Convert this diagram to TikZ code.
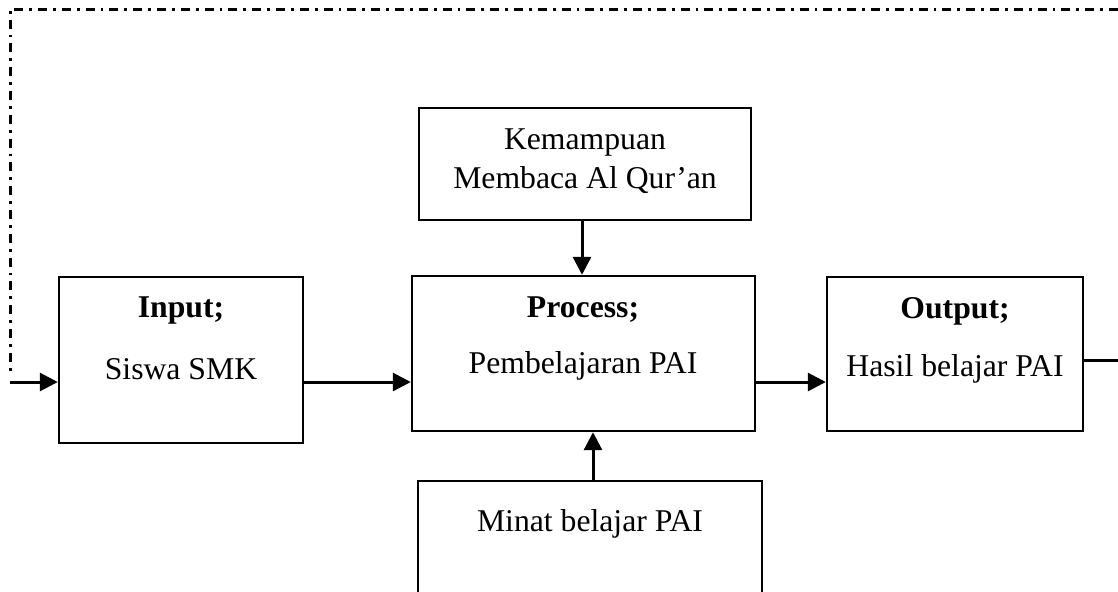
\documentclass[tikz,border=0pt]{standalone}
\usepackage{fontspec}
\setmainfont{Liberation Serif}
\usetikzlibrary{arrows.meta}
\begin{document}
\begin{tikzpicture}[x=0.5pt,y=-0.5pt,
  box/.style={draw,line width=1.2pt,inner sep=0pt,minimum width=#1},
  txt/.style={font=\fontsize{15.85}{19.5}\selectfont,inner sep=0pt,align=center},
  arr/.style={line width=1.5pt,-{Triangle[length=9pt,width=9pt]}},
  conn/.style={line width=1.5pt},
  dashdot/.style={line width=1.5pt,dash pattern=on 4.5pt off 3pt on 1.4pt off 3pt}]
\useasboundingbox (0,0) rectangle (1118,591);
\clip (0,0) rectangle (1118,591);
% boxes
\node[box=122pt,minimum height=83pt] (input) at (181,360) {};
\node[box=171.5pt,minimum height=77.5pt] (process) at (583.5,353.5) {};
\node[box=166pt,minimum height=56pt] (kem) at (585,164) {};
\node[box=128pt,minimum height=77pt] (output) at (955,354) {};
\node[box=172pt,minimum height=79.5pt] (minat) at (590,560.5) {};
% texts
\node[txt,font=\fontsize{15.85}{19.5}\selectfont\bfseries] (tin) at (181,310) {Input;};
\node[txt] (tsiswa) at (181,369) {Siswa SMK};
\node[txt,font=\fontsize{15.85}{19.5}\selectfont\bfseries] (tpro) at (583,310) {Process;};
\node[txt] (tpemb) at (583,366) {Pembelajaran PAI};
\node[txt] (tkem) at (585,161) {Kemampuan\\Membaca Al Qur’an};
\node[txt,font=\fontsize{15.85}{19.5}\selectfont\bfseries] (tout) at (955,311) {Output;};
\node[txt] (thasil) at (955,369) {Hasil belajar PAI};
\node[txt] (tminat) at (590,524) {Minat belajar PAI};
% helper coordinates
\coordinate (r1) at (1118,360);
\coordinate (tr) at (1118,9);
\coordinate (tl) at (10,9);
\coordinate (bl) at (10,382);
\coordinate (ax) at (582,0);
\coordinate (bx) at (593,0);
% connectors
\draw[dashdot] (tr) -- (tl) -- ([yshift=3pt]bl);
\draw[arr] (bl) -- (input.west |- bl);
\draw[arr] (input.east |- bl) -- (process.west |- bl);
\draw[arr] (process.east |- bl) -- (output.west |- bl);
\draw[conn] (output.east |- r1) -- (r1);
\draw[arr] (kem.south -| ax) -- (process.north -| ax);
\draw[arr] (minat.north -| bx) -- (process.south -| bx);
\end{tikzpicture}
\end{document}
